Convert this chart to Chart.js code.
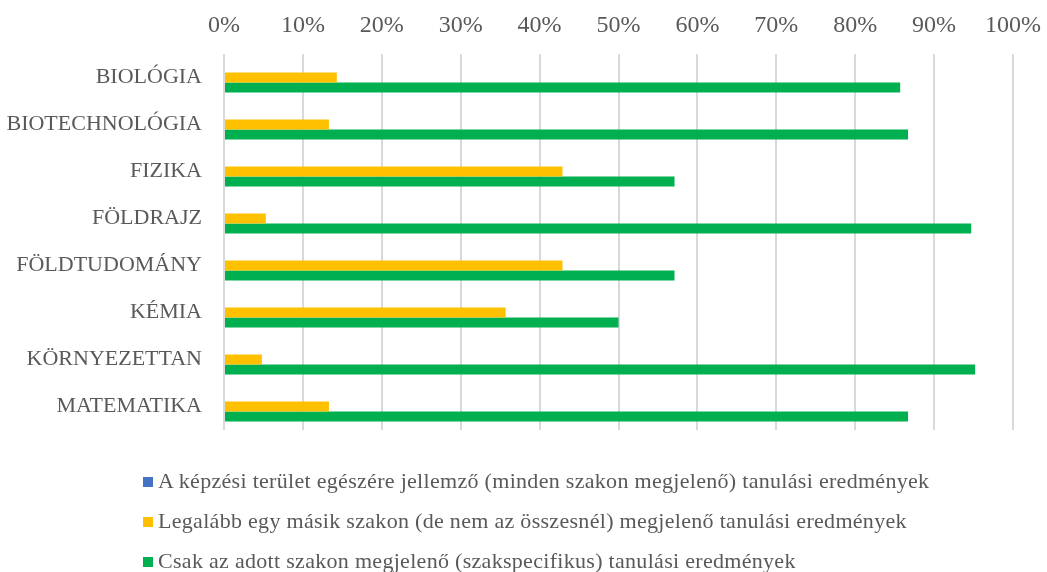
<!DOCTYPE html>
<html lang="hu">
<head>
<meta charset="utf-8">
<title>Tanulási eredmények szakonként</title>
<script src="https://cdn.jsdelivr.net/npm/chart.js@4"></script>
<style>
    html, body { margin: 0; padding: 0; background: #fff; }
    #wrap { position: relative; width: 1047px; height: 572px; }
    #legend {
        position: absolute; left: 143px; top: 466px;
        font-family: "Liberation Serif", serif; font-size: 22px; letter-spacing: 0.3px; color: #595959;
    }
    #legend div { height: 40px; line-height: 30px; white-space: nowrap; }
    #legend span.box { display: inline-block; width: 10px; height: 10px; margin-right: 5px; vertical-align: 1px; }
</style>
</head>
<body>
<div id="wrap">
    <canvas id="chart" width="1047" height="572"></canvas>
    <div id="legend"></div>
</div>
<script>
// Szakok és az egyes eredménytípusok aránya (%)
var szakok = ['BIOLÓGIA', 'BIOTECHNOLÓGIA', 'FIZIKA', 'FÖLDRAJZ', 'FÖLDTUDOMÁNY', 'KÉMIA', 'KÖRNYEZETTAN', 'MATEMATIKA'];
var teruletEgesze = [0, 0, 0, 0, 0, 0, 0, 0];
var masikSzakon = [14.3, 13.3, 42.9, 5.3, 42.9, 35.7, 4.8, 13.3];
var csakAdottSzakon = [85.7, 86.7, 57.1, 94.7, 57.1, 50.0, 95.2, 86.7];
var xTicks = [0, 10, 20, 30, 40, 50, 60, 70, 80, 90, 100];

var labels = [
    'A képzési terület egészére jellemző (minden szakon megjelenő) tanulási eredmények',
    'Legalább egy másik szakon (de nem az összesnél) megjelenő tanulási eredmények',
    'Csak az adott szakon megjelenő (szakspecifikus) tanulási eredmények'
];
var colors = ['#4472C4', '#FFC000', '#00B050'];

(function () {
    'use strict';

    var textColor = '#595959';
    var family = '"Liberation Serif", serif';

    var datasets = [teruletEgesze, masikSzakon, csakAdottSzakon].map(function (values, i) {
        return {
            label: labels[i],
            data: values,
            backgroundColor: colors[i],
            borderWidth: 0,
            barPercentage: 1,
            categoryPercentage: 0.64
        };
    });

    var chart = new Chart(document.getElementById('chart').getContext('2d'), {
        type: 'bar',
        data: { labels: szakok, datasets: datasets },
        options: {
            responsive: false,
            animation: false,
            indexAxis: 'y',
            layout: { padding: { top: 0, right: 34, bottom: 142, left: 0 } },
            scales: {
                x: {
                    position: 'top',
                    min: 0,
                    max: 100,
                    afterBuildTicks: function (axis) {
                        axis.ticks = xTicks.map(function (v) { return { value: v }; });
                    },
                    // fixed band for the percent labels above the plot
                    afterFit: function (scale) {
                        scale.height = 54;
                        scale.paddingLeft = 0;
                        scale.paddingRight = 0;
                    },
                    grid: { color: '#d9d9d9', lineWidth: 2, drawTicks: false },
                    border: { display: false },
                    ticks: {
                        color: textColor,
                        font: { family: family, size: 24 },
                        padding: 14,
                        callback: function (v) { return v + '%'; }
                    }
                },
                y: {
                    afterFit: function (scale) {
                        scale.width = 224;
                        scale.paddingTop = 0;
                        scale.paddingBottom = 0;
                    },
                    grid: { display: false, drawTicks: false },
                    border: { display: false },
                    ticks: { color: textColor, font: { family: family, size: 22 }, padding: 22 }
                }
            },
            plugins: {
                legend: { display: false },
                tooltip: { enabled: false }
            }
        }
    });

    // Jelmagyarázat: egy tétel soronként, balra igazítva
    var legendEl = document.getElementById('legend');
    chart.data.datasets.forEach(function (ds) {
        var row = document.createElement('div');
        var box = document.createElement('span');
        box.className = 'box';
        box.style.background = ds.backgroundColor;
        row.appendChild(box);
        row.appendChild(document.createTextNode(ds.label));
        legendEl.appendChild(row);
    });
})();
</script>
</body>
</html>
